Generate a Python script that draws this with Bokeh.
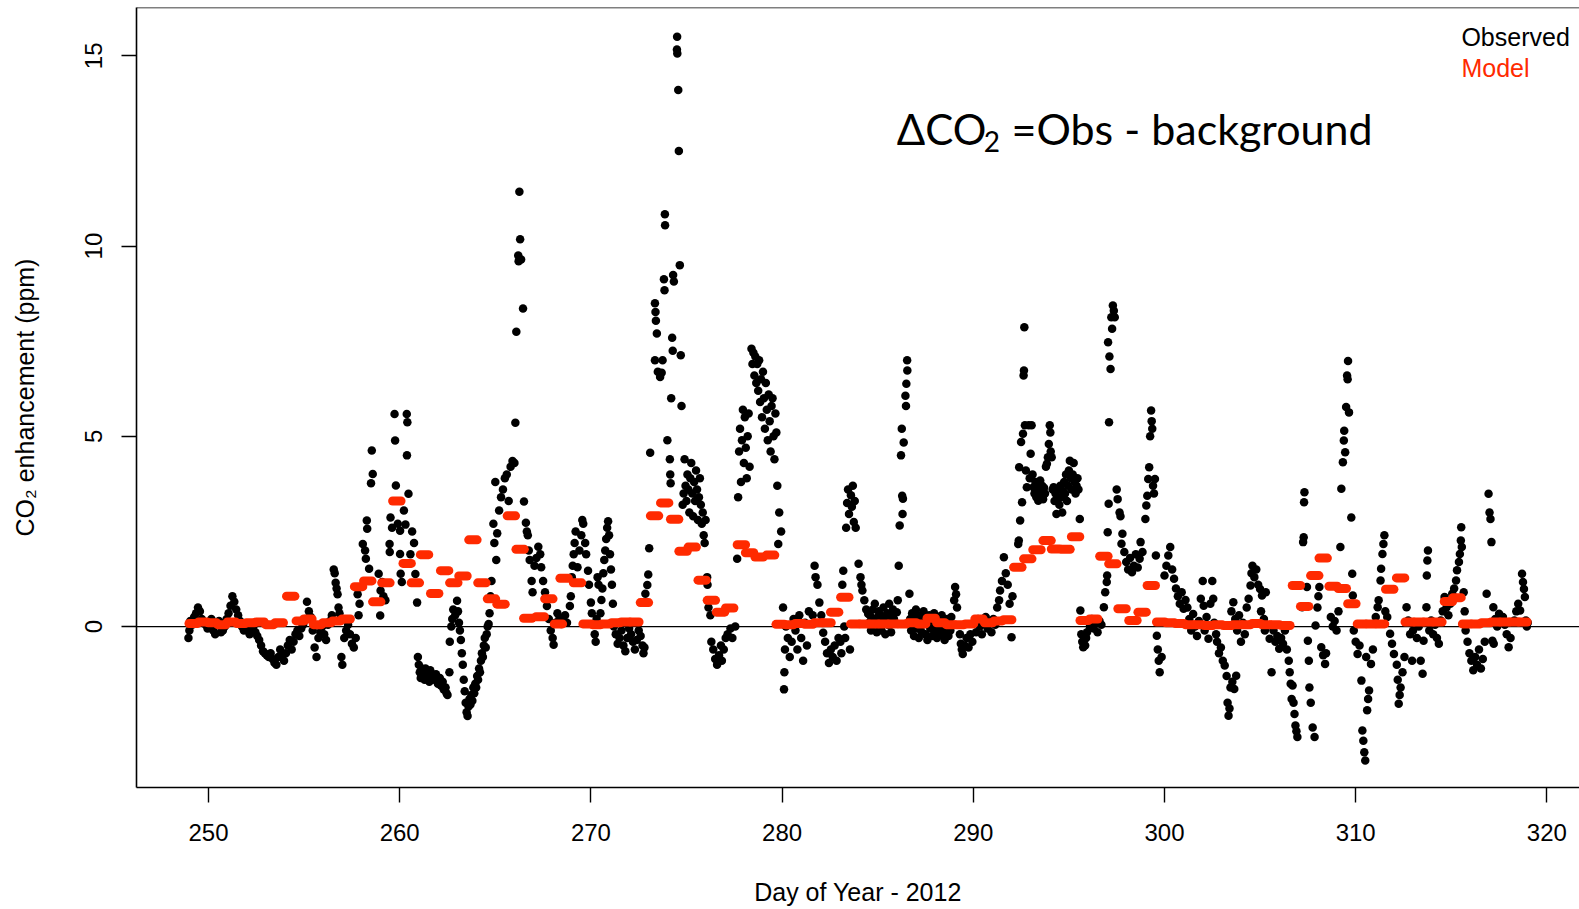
from bokeh.plotting import figure
from bokeh.models import Range1d, FixedTicker, Span, Label, ColumnDataSource
from bokeh.embed import file_html
from bokeh.resources import INLINE

# ---------------- data ----------------
x_ticks = [250, 260, 270, 280, 290, 300, 310, 320]
y_ticks = [0, 5, 10, 15]

obs_day = [
    248.95, 249.00, 249.05, 249.15, 249.25, 249.35, 249.45, 249.55, 249.65, 249.75, 249.85, 249.95,
    250.05, 250.15, 250.25, 250.35, 250.45, 250.55, 250.65, 250.75, 250.85, 250.95,
    251.05, 251.15, 251.25, 251.35, 251.45, 251.55, 251.65, 251.75, 251.85, 251.95,
    252.05, 252.15, 252.25, 252.35, 252.45, 252.55, 252.65, 252.75, 252.85, 252.95,
    253.05, 253.15, 253.25, 253.35, 253.45, 253.55, 253.65, 253.75, 253.85, 253.95,
    254.05, 254.15, 254.25, 254.35, 254.45, 254.55, 254.65, 254.75, 254.85, 254.95,
    255.05, 255.15, 255.25, 255.35, 255.45, 255.55, 255.65, 255.75, 255.85, 255.95,
    256.05, 256.15, 256.25, 256.35, 256.45, 256.55, 256.60, 256.65, 256.70, 256.75, 256.80, 256.85, 256.95, 257.00,
    257.10, 257.20, 257.30, 257.40, 257.50, 257.60, 257.70, 257.80, 257.85, 257.90,
    258.07, 258.19, 258.23, 258.28, 258.30, 258.40, 258.50, 258.54, 258.59, 258.90, 258.98, 259.00, 259.08, 259.15, 259.25,
    259.47, 259.48, 259.52, 259.60, 259.73, 259.76, 259.80, 259.90, 260.02, 260.02, 260.05, 260.11, 260.37, 260.40, 260.38, 260.46, 260.46,
    260.22, 260.30, 260.56, 260.65, 260.75, 260.82, 260.91,
    260.95, 261.00, 261.05, 261.10, 261.15, 261.20, 261.30, 261.35, 261.40, 261.50, 261.55, 261.60,
    261.70, 261.80, 261.90, 262.00, 262.10, 262.15, 262.25, 262.30, 262.40, 262.45, 262.50,
    262.60, 262.62, 262.70, 262.75, 262.80, 262.90, 263.00, 263.05, 263.10, 263.15, 263.20, 263.25, 263.30,
    263.35, 263.40, 263.45, 263.50, 263.55, 263.60, 263.65, 263.70, 263.75, 263.80, 263.85, 263.90, 263.95, 264.00, 264.05,
    264.10, 264.15, 264.20, 264.25, 264.30, 264.35, 264.40, 264.45, 264.50, 264.55, 264.60, 264.65, 264.70, 264.75, 264.80,
    264.90, 264.95, 265.00, 265.05, 265.10, 265.20, 265.30, 265.40, 265.50, 265.60, 265.70, 265.80, 265.90, 266.00, 266.05,
    266.10, 266.20, 266.22, 266.26, 266.30, 266.35, 266.45,
    266.50, 266.60, 266.65, 266.70, 266.75, 266.80, 266.90, 266.95,
    267.05, 267.15, 267.25, 267.35, 267.40, 267.50, 267.60, 267.70,
    267.80, 267.90, 268.00, 268.05, 268.15, 268.25, 268.35, 268.45, 268.55, 268.65, 268.75,
    268.90, 268.95, 269.00, 269.05, 269.10, 269.15, 269.20, 269.30, 269.40, 269.50, 269.55, 269.60, 269.70, 269.75,
    269.85, 269.90, 270.00, 270.05, 270.10, 270.20, 270.25, 270.30, 270.35, 270.40,
    270.50, 270.55, 270.60, 270.65, 270.70, 270.75, 270.80, 270.85, 270.90, 270.95, 271.00, 271.05, 271.10, 271.15,
    271.20, 271.30, 271.40, 271.50, 271.60, 271.70, 271.80, 271.90, 272.00,
    272.10, 272.20, 272.30, 272.40, 272.50, 272.60, 272.70, 272.75, 272.80,
    272.85, 272.95, 273.00, 273.05, 273.10,
    273.35, 273.38, 273.40, 273.45, 273.35, 273.50, 273.62, 273.70, 273.75, 273.82, 273.85, 273.87, 273.88, 274.00, 274.13, 274.15, 274.17,
    274.51, 274.50, 274.52, 274.57, 274.60, 274.65, 274.30, 274.34, 274.25, 274.28, 274.70, 274.20, 274.74,
    274.80, 274.85, 274.90, 274.95, 275.00, 275.05, 275.10, 275.15, 275.20, 275.25, 275.30, 275.35, 275.40,
    275.45, 275.50, 275.55, 275.60, 275.65, 275.70, 275.75, 275.80, 275.85, 275.90, 275.95, 276.00,
    276.08, 276.10, 276.15, 276.25, 276.30, 276.40, 276.50, 276.60, 276.70, 276.80, 276.85, 276.95, 277.05, 277.15, 277.30, 277.40, 277.55,
    277.65, 277.70, 277.75, 277.80, 277.85, 277.90, 277.95, 278.00, 278.05, 278.10, 278.15, 278.20, 278.25, 278.30,
    278.40, 278.45, 278.50, 278.55, 278.60, 278.65, 278.70, 278.75, 278.80, 278.85, 278.90, 278.95, 279.00, 279.05, 279.10,
    279.15, 279.20, 279.25, 279.30, 279.35, 279.40, 279.45, 279.50, 279.55, 279.60, 279.65, 279.70, 279.75, 279.80, 279.85, 279.95,
    280.05, 280.10, 280.12, 280.15, 280.20, 280.30, 280.40, 280.50, 280.60, 280.70, 280.80, 280.90, 281.00, 281.10, 281.20, 281.30, 281.40,
    281.60, 281.70, 281.75, 281.85, 281.95, 282.05, 282.15, 282.25, 282.35, 282.45, 282.55, 282.65, 282.75, 282.85, 282.95,
    283.05, 283.10, 283.15, 283.20, 283.25, 283.30, 283.35, 283.40, 283.45, 283.50, 283.55, 283.60,
    283.65, 283.70, 283.75, 283.80, 283.85, 284.00, 284.10, 284.15, 284.20, 284.30, 284.40, 284.50,
    284.55, 284.60, 284.65, 284.70, 284.75, 284.80, 284.85, 284.90, 284.95, 285.00, 285.05, 285.10, 285.15, 285.20,
    285.25, 285.30, 285.35, 285.40, 285.45, 285.50, 285.55, 285.60, 285.65, 285.70, 285.75, 285.80, 285.85,
    286.00, 286.05, 286.10, 286.15, 286.22, 286.26, 286.28, 286.30, 286.32, 286.36, 286.45, 286.48, 286.50, 286.54, 286.55, 286.66,
    286.70, 286.75, 286.80, 286.85, 286.90, 286.95, 287.00, 287.05, 287.10, 287.15, 287.20, 287.25, 287.30, 287.35, 287.40,
    287.45, 287.50, 287.55, 287.60, 287.65, 287.70, 287.75, 287.80, 287.85, 287.90, 287.95, 288.00, 288.05, 288.10, 288.15,
    288.20, 288.25, 288.30, 288.35, 288.40, 288.45, 288.50, 288.55, 288.60, 288.65, 288.70, 288.75, 288.80, 288.85, 288.90,
    289.00, 289.05, 289.10, 289.15, 289.30, 289.35, 289.40, 289.45, 289.55, 289.65, 289.75, 289.85, 289.95,
    290.05, 290.15, 290.25, 290.35, 290.45, 290.55, 290.65, 290.75, 290.85, 290.95, 291.05, 291.15,
    291.25, 291.35, 291.40, 291.50, 291.60, 291.70, 291.80, 291.90, 292.00, 292.05,
    292.35, 292.38, 292.40, 292.45, 292.50, 292.55, 292.60, 292.63, 292.65, 292.67,
    292.70, 292.75, 292.80, 292.90, 292.95, 293.00, 293.05, 293.10, 293.15,
    293.20, 293.25, 293.30, 293.35, 293.40, 293.45, 293.50, 293.55, 293.60, 293.65, 293.70, 293.75,
    293.80, 293.85, 293.90, 293.95, 294.00, 294.03, 294.05, 294.10, 294.15, 294.20,
    294.25, 294.30, 294.35, 294.40, 294.45, 294.50, 294.55, 294.60, 294.65, 294.70,
    294.75, 294.80, 294.85, 294.90, 294.95, 295.00, 295.05, 295.10, 295.15,
    295.20, 295.25, 295.30, 295.35, 295.40, 295.45, 295.50, 295.57,
    295.60, 295.65, 295.70, 295.75, 295.80, 295.85, 295.90, 295.95,
    296.10, 296.20, 296.30, 296.40, 296.50, 296.60, 296.70,
    296.83, 296.90, 296.98, 297.00, 297.03, 297.08, 297.10, 297.05,
    297.12, 297.18, 297.22, 297.26, 297.30, 297.35, 297.40,
    297.50, 297.55, 297.65, 297.70, 297.75, 297.80, 297.90, 298.00, 298.10,
    298.20, 298.30, 298.40, 298.50, 298.60, 298.70, 298.75, 298.85,
    299.00, 299.05, 299.10, 299.15, 299.20, 299.25, 299.30, 299.33, 299.36, 299.40, 299.45, 299.50,
    299.55, 299.60, 299.65, 299.70, 299.75, 299.85,
    300.00, 300.10, 300.20, 300.30, 300.40, 300.50, 300.60, 300.70, 300.80, 300.90, 301.00, 301.10, 301.20,
    301.30, 301.40, 301.50, 301.60, 301.70, 301.80, 301.90, 302.00, 302.05,
    302.10, 302.20, 302.30, 302.40, 302.50, 302.55, 302.60, 302.70,
    302.75, 302.85, 302.95, 303.05, 303.15, 303.25, 303.30, 303.35, 303.40, 303.45, 303.55, 303.65, 303.75,
    303.50, 303.60, 303.70, 303.80, 303.90, 304.00, 304.10, 304.20,
    304.30, 304.40, 304.50, 304.55, 304.60, 304.70, 304.80, 304.90, 305.00,
    305.05, 305.10, 305.20, 305.25, 305.30, 305.40, 305.50, 305.60,
    305.70, 305.80, 305.90, 306.00, 306.10, 306.20, 306.30,
    306.40, 306.50, 306.55, 306.60, 306.65, 306.70, 306.75, 306.80, 306.85, 306.90, 306.95,
    307.20, 307.25, 307.28, 307.30, 307.32, 307.45, 307.50, 307.55, 307.58, 307.65,
    307.75, 307.85, 307.90, 308.00, 308.05, 308.10, 308.20, 308.30, 308.40, 308.45,
    308.70, 308.80, 308.90, 309.00, 309.10, 309.20, 309.25, 309.33, 309.38, 309.40,
    309.45, 309.50, 309.55, 309.58, 309.60, 309.65, 309.77, 309.82, 309.85,
    309.90, 310.00, 310.10, 310.20, 310.30, 310.35, 310.40, 310.45, 310.50,
    310.55, 310.60, 310.65, 310.70, 310.80, 310.90,
    311.05, 311.15, 311.20, 311.30, 311.33, 311.40, 311.45, 311.50, 311.55, 311.65, 311.80, 311.90, 312.00,
    312.15, 312.20, 312.25, 312.30, 312.35, 312.45, 312.55, 312.66,
    312.75, 312.85, 312.95, 313.00, 313.10, 313.20, 313.30, 313.40, 313.50, 313.55, 313.65,
    313.70, 313.72, 313.75, 313.78, 313.85, 313.95, 314.05, 314.15, 314.25, 314.35,
    314.45, 314.55, 314.65, 314.75, 314.85, 314.95, 315.05, 315.15, 315.25,
    315.30, 315.40, 315.45, 315.50, 315.52, 315.55, 315.65, 315.70,
    315.75, 315.85, 315.95, 316.05, 316.15, 316.25, 316.35, 316.45, 316.55, 316.65, 316.75,
    316.85, 316.95, 317.00, 317.05, 317.10, 317.15, 317.20, 317.22,
    317.30, 317.40, 317.50, 317.60, 317.70, 317.80, 317.90, 318.00, 318.10, 318.20,
    318.30, 318.40, 318.50, 318.60, 318.70, 318.75, 318.80, 318.85, 318.90, 318.95, 319.00,
]

obs_ppm = [
    -0.30, -0.10, 0.15, 0.05, 0.25, 0.35, 0.50, 0.40, 0.20, 0.10, 0.05, -0.05,
    0.10, 0.20, -0.10, -0.20, 0.05, 0.15, -0.15, -0.10, 0.00, 0.20,
    0.35, 0.55, 0.80, 0.65, 0.45, 0.30, 0.15, 0.00, -0.10, 0.05,
    -0.05, -0.20, -0.10, 0.00, -0.15, -0.25, -0.35, -0.50, -0.65, -0.70,
    -0.75, -0.80, -0.70, -0.85, -0.95, -1.00, -0.80, -0.60, -0.75, -0.90,
    -0.70, -0.50, -0.35, -0.60, -0.40, -0.20, -0.10, -0.25, -0.05, 0.05,
    0.20, 0.65, 0.40, 0.25, -0.10, -0.55, -0.80, -0.30, -0.15, 0.00,
    -0.20, -0.35, 0.05, 0.15, 0.30, 1.50, 1.40, 1.15, 1.00, 0.85, 0.50, 0.35, -0.80, -1.00,
    -0.30, -0.10, 0.05, -0.20, -0.45, -0.55, -0.30, 0.85, 0.30, 0.60,
    2.17, 2.00, 1.78, 2.79, 2.57, 1.52, 3.77, 4.63, 4.01, 1.39, 0.29, 0.95, 1.17, 0.80, 0.69,
    2.17, 1.96, 2.87, 2.60, 5.59, 4.89, 3.71, 2.70, 2.52, 1.91, 1.39, 1.17, 5.59, 5.37, 4.50, 3.49, 1.65,
    3.05, 2.68, 1.90, 2.50, 2.20, 1.38, 0.63,
    -0.80, -1.00, -1.20, -1.35, -1.10, -1.25, -1.40, -1.10, -1.20, -1.30, -1.45, -1.15,
    -1.30, -1.40, -1.25, -1.50, -1.35, -1.55, -1.45, -1.65, -1.60, -1.75, -1.80,
    -1.20, -0.40, 0.00, 0.20, 0.45, 0.30, 0.68, 0.40, 0.10, -0.10, -0.35, -0.70, -1.00,
    -1.40, -1.70, -2.00, -2.25, -2.35, -2.10, -1.90, -2.05, -1.80, -1.95, -1.60, -1.75, -1.50, -1.60, -1.30,
    -1.40, -1.10, -1.20, -0.90, -0.70, -0.80, -0.50, -0.30, -0.55, -0.20, 0.00, 0.07, 0.35, 0.80, 1.20,
    2.70, 2.20, 3.80, 1.75, 2.45, 3.05, 3.40, 3.60, 3.90, 4.00, 3.30, 4.20, 4.35, 4.30, 5.36,
    7.75, 9.75, 9.60, 11.43, 10.18, 9.65, 8.36,
    3.29, 2.73, 2.50, 2.40, 2.00, 1.75, 1.20, 0.90,
    1.60, 1.80, 2.10, 1.90, 1.56, 1.20, 0.90, 0.54,
    0.20, -0.10, -0.30, -0.48, 0.10, 0.35, 0.20, 0.07, 0.15, 0.30, 0.10,
    0.54, 0.80, 1.30, 1.60, 1.90, 2.20, 2.50, 1.56, 2.00, 2.40, 2.80, 2.70, 2.20, 1.90,
    1.47, 1.10, 0.63, 0.35, 0.07, -0.20, -0.40, 0.20, 1.30, 1.10,
    0.35, 0.70, 1.00, 1.40, 1.75, 2.00, 2.30, 2.60, 2.77, 2.40, 1.90, 1.50, 1.10, 0.60,
    0.00, -0.20, -0.45, -0.30, -0.10, -0.50, -0.65, -0.30, -0.05,
    -0.20, -0.40, -0.60, -0.35, -0.10, -0.25, -0.50, -0.70, -0.55,
    0.86, 1.09, 1.37, 2.06, 4.57,
    8.50, 8.27, 8.04, 7.70, 7.00, 6.70, 6.56, 6.67, 7.00, 9.13, 8.84, 10.84, 10.55, 4.90, 4.40, 4.00, 3.77,
    15.50, 15.17, 15.06, 14.10, 12.50, 9.50, 9.24, 9.07, 7.59, 7.25, 7.13, 6.00, 5.80,
    3.20, 3.50, 4.40, 3.70, 3.30, 4.00, 3.60, 3.00, 3.90, 4.30, 3.50, 2.90, 3.80,
    3.30, 4.10, 3.60, 2.80, 3.40, 3.90, 3.20, 2.70, 3.00, 2.40, 2.20, 2.80,
    1.30, 1.10, 0.50, 0.30, -0.40, -0.60, -0.85, -1.00, -0.75, -0.50, -0.90, -0.60, -0.30, -0.20, -0.05, -0.30, 0.00,
    1.78, 3.40, 4.60, 5.20, 3.80, 4.90, 5.70, 4.30, 5.50, 4.70, 3.90, 5.00, 5.60, 4.20,
    7.30, 6.90, 7.20, 6.60, 7.10, 6.40, 6.90, 6.20, 7.00, 5.90, 6.50, 5.50, 6.70, 6.00, 5.20,
    6.40, 5.70, 4.90, 6.10, 5.40, 4.60, 5.80, 6.00, 5.00, 4.40, 5.60, 5.10, 3.70, 2.17, 3.00, 2.50,
    0.50, -1.65, -1.20, -0.60, 0.00, -0.30, -0.80, -0.40, 0.20, -0.10, -0.60, 0.30, -0.30, -0.90, 0.10, -0.50, 0.40,
    0.30, 1.60, 1.30, 1.10, 0.63, 0.30, -0.16, -0.40, -0.70, -0.96, -0.60, -0.80, -0.50, -0.90, -0.30,
    -0.40, -0.70, 1.10, 1.47, 0.00, -0.30, 2.60, 3.25, 3.60, 2.96, -0.60, 3.45,
    3.15, 3.70, 2.75, 3.30, 2.60, 1.65, 1.30, 1.10, 0.95, 0.69, 0.45, 0.34,
    0.10, 0.30, -0.10, 0.20, 0.45, 0.05, 0.60, 0.15, -0.15, 0.25, 0.40, 0.00, 0.30, -0.10,
    0.15, 0.50, 0.10, -0.20, 0.20, 0.35, 0.05, 0.60, 0.30, -0.15, 0.10, 0.45, 0.20,
    0.38, 0.69, 1.60, 2.66, 4.50, 5.20, 3.44, 2.96, 3.36, 4.84, 6.07, 5.80, 6.38, 7.00, 6.73, 0.86,
    0.20, -0.10, 0.35, 0.05, -0.25, 0.15, 0.45, -0.05, 0.25, -0.30, 0.10, 0.30, -0.15, 0.05, 0.40,
    0.15, -0.20, 0.20, -0.35, 0.10, 0.30, -0.05, 0.20, -0.25, 0.05, 0.35, -0.10, 0.15, -0.30, 0.25,
    0.00, -0.20, 0.10, 0.30, -0.15, 0.05, -0.35, 0.15, -0.05, 0.20, -0.25, 0.10, -0.10, 0.25, 0.05,
    0.69, 1.04, 0.85, 0.50, -0.20, -0.45, -0.60, -0.72, -0.50, -0.30, -0.55, -0.20, -0.40,
    0.10, -0.15, 0.20, 0.00, -0.20, 0.15, 0.25, -0.05, 0.10, -0.15, 0.20, 0.05,
    0.50, 0.69, 0.95, 1.20, 1.82, 1.40, 1.10, 0.60, -0.28, 0.80,
    2.17, 2.26, 4.19, 2.79, 4.85, 3.27, 5.07, 6.60, 6.73, 7.87,
    5.29, 4.10, 3.66, 5.29, 3.90, 4.54, 5.29, 4.00, 3.66,
    3.50, 3.80, 3.40, 3.70, 3.31, 3.60, 3.84, 3.45, 3.70, 3.35, 3.65, 3.50,
    4.20, 4.28, 4.45, 4.80, 5.29, 5.10, 4.60, 4.45, 3.60, 3.66,
    3.30, 3.50, 2.96, 3.40, 3.60, 3.20, 3.70, 3.40, 3.00, 3.55,
    3.80, 3.50, 4.00, 3.30, 3.70, 4.10, 4.36, 3.90, 3.60,
    4.00, 4.30, 3.80, 3.50, 3.70, 3.90, 3.60, 2.83,
    0.42, -0.20, -0.40, -0.54, -0.35, -0.50, -0.30, -0.15,
    0.00, 0.20, -0.05, 0.10, -0.15, 0.15, 0.05,
    0.51, 0.90, 1.17, 1.34, 2.48, 3.23, 5.37, 7.47,
    7.10, 6.77, 8.13, 7.83, 8.44, 8.30, 8.13,
    3.60, 3.35, 3.00, 2.90, 2.18, 2.44, 1.96, 1.70, 1.50,
    1.80, 1.43, 1.60, 1.90, 1.55, 1.78, 2.22, 1.96,
    2.83, 3.18, 3.44, 3.88, 4.19, 5.00, 5.68, 5.40, 5.20, 3.70, 3.50, 3.88,
    1.87, -0.24, -0.60, -0.90, -1.20, -0.80,
    1.34, 1.60, 1.87, 2.09, 1.50, 1.26, 1.00, 0.80, 0.60, 0.90, 0.47, 0.70, 0.50,
    0.20, -0.10, 0.33, 0.00, -0.25, 0.15, 0.73, 1.20, 0.55,
    -0.10, 0.25, -0.32, 0.60, 1.20, 0.73, 0.10, -0.20,
    -0.40, -0.70, -0.55, -0.90, -1.02, -1.30, -2.00, -2.34, -2.15, -1.60, -1.45, -1.64, -1.29,
    0.40, 0.64, 0.20, -0.10, 0.30, -0.40, 0.10, -0.20,
    0.50, 0.73, 1.08, 1.40, 1.60, 1.30, 1.50, 1.10, 0.99,
    0.40, 0.82, 0.20, -0.10, 0.90, 0.03, -0.32, -1.20,
    -0.10, -0.40, -0.25, -0.58, -0.30, -0.45, -0.10,
    -0.60, -0.90, -1.20, -1.50, -1.90, -1.55, -2.00, -2.30, -2.60, -2.75, -2.90,
    0.51, 2.22, 2.35, 3.27, 3.53, 1.04, -0.37, -0.90, -1.60, -2.00,
    -2.65, -2.90, 0.03, 0.50, 0.80, 1.04, -0.54, -0.75, -0.98, -0.70,
    0.25, 0.00, 0.15, -0.10, 0.40, 2.09, 3.62, 4.32, 4.89, 5.15,
    4.58, 5.77, 6.60, 6.50, 6.98, 5.63, 2.87, 1.39, 0.82,
    -0.10, -0.40, -0.72, -0.50, -1.42, -2.73, -3.00, -3.30, -3.52,
    -0.80, -2.20, -1.90, -1.68, -0.98, -0.60,
    0.25, 0.51, 0.69, 1.21, 1.52, 1.91, 2.17, 2.40, 0.40, 0.25, -0.19, -0.45, -0.72,
    -1.00, -1.40, -2.03, -1.80, -1.60, -1.20, -0.80, 0.51,
    0.16, -0.20, -0.90, -0.10, 0.10, -0.30, 0.00, -0.90, -1.24, -0.37, 0.10,
    0.51, 1.34, 1.74, 2.00, -0.10, 0.16, -0.20, 0.05, -0.30, -0.45,
    0.16, 0.40, 0.78, 0.50, 0.30, 0.60, 0.86, 1.00, 1.21,
    1.48, 1.70, 1.91, 2.26, 2.61, 2.09, 0.90, 0.40,
    -0.10, -0.40, -0.70, -0.90, -1.15, -0.80, -1.00, -0.60, -1.10, -0.85, -0.40,
    0.86, 3.49, 3.00, 2.83, 2.22, -0.37, 0.51, -0.45,
    0.20, 0.00, 0.34, 0.10, 0.25, 0.05, -0.20, -0.54, -0.30, 0.10,
    0.16, 0.40, 0.60, 0.42, 1.39, 1.17, 0.99, 0.78, 0.16, 0.00, 0.10,
]

model_day = [
    249.2, 249.7, 250.2, 250.7, 251.2, 251.7, 252.2, 252.7, 253.2, 253.7,
    254.3, 254.8, 255.2, 255.7, 256.2, 256.7, 257.2, 257.85, 258.33, 258.8,
    259.28, 259.85, 260.39, 260.82, 261.3, 261.83, 262.35, 262.83, 263.31, 263.83,
    264.3, 264.8, 265.3, 265.84, 266.3, 266.7, 267.35, 267.8, 268.3, 268.6,
    269.3, 269.8, 270.3, 270.8, 271.3, 271.8, 272.3, 272.8, 273.33, 273.86,
    274.38, 274.82, 275.3, 275.82, 276.3, 276.78, 277.26, 277.87, 278.3, 278.8,
    279.4, 279.9, 280.4, 280.9, 281.4, 281.9, 282.35, 282.75, 283.28, 283.8,
    284.3, 284.8, 285.3, 285.8, 286.3, 286.8, 287.3, 287.8, 288.3, 288.8,
    289.3, 289.8, 290.3, 290.8, 291.3, 291.8, 292.33, 292.85, 293.33, 293.86,
    294.3, 294.85, 295.35, 295.8, 296.3, 296.83, 297.3, 297.78, 298.35, 298.83,
    299.31, 299.8, 300.3, 300.8, 301.3, 301.8, 302.3, 302.8, 303.3, 303.8,
    304.3, 304.8, 305.3, 305.8, 306.35, 306.9, 307.33, 307.86, 308.3, 308.82,
    309.3, 309.8, 310.3, 310.8, 311.3, 311.78, 312.35, 312.8, 313.3, 313.8,
    314.3, 314.85, 315.3, 315.8, 316.3, 316.8, 317.3, 317.8, 318.3, 318.75,
]

model_ppm = [
    0.08, 0.12, 0.10, 0.05, 0.12, 0.08, 0.10, 0.12, 0.05, 0.10,
    0.80, 0.15, 0.20, 0.05, 0.10, 0.15, 0.20, 1.05, 1.20, 0.65,
    1.15, 3.30, 1.66, 1.15, 1.89, 0.87, 1.47, 1.15, 1.33, 2.28,
    1.15, 0.73, 0.59, 2.91, 2.03, 0.22, 0.26, 0.73, 0.07, 1.27,
    1.15, 0.07, 0.05, 0.07, 0.10, 0.12, 0.12, 0.63, 2.91, 3.25,
    2.82, 1.98, 2.09, 1.22, 0.69, 0.38, 0.49, 2.15, 1.94, 1.83,
    1.88, 0.06, 0.05, 0.08, 0.06, 0.10, 0.10, 0.38, 0.77, 0.07,
    0.07, 0.07, 0.07, 0.07, 0.07, 0.10, 0.07, 0.22, 0.10, 0.05,
    0.05, 0.07, 0.20, 0.10, 0.15, 0.18, 1.56, 1.78, 2.02, 2.26,
    2.04, 2.03, 2.36, 0.16, 0.20, 1.85, 1.65, 0.47, 0.16, 0.38,
    1.08, 0.12, 0.10, 0.08, 0.05, 0.05, 0.03, 0.05, 0.03, 0.05,
    0.05, 0.08, 0.05, 0.05, 0.03, 1.08, 0.53, 1.34, 1.80, 1.06,
    1.00, 0.60, 0.07, 0.07, 0.07, 0.98, 1.28, 0.12, 0.12, 0.12,
    0.12, 0.66, 0.76, 0.07, 0.07, 0.10, 0.12, 0.12, 0.12, 0.12,
]

assert len(obs_day) == len(obs_ppm), (len(obs_day), len(obs_ppm))
assert len(model_day) == len(model_ppm), (len(model_day), len(model_ppm))

# ---------------- style ----------------
RED = "#ff2a00"
FONT = "Liberation Sans"
DASH_HALF = 0.22  # half length (days) of each model dash

x_start, x_end = 246.234, 321.706
y_start, y_end = -4.229, 16.271

p = figure(width=1579, height=909,
           x_range=Range1d(x_start, x_end), y_range=Range1d(y_start, y_end),
           output_backend="svg", toolbar_location=None,
           min_border_left=136, min_border_right=0,
           min_border_top=7, min_border_bottom=122)
p.outline_line_color = None
p.grid.visible = False
p.background_fill_color = "white"
p.border_fill_color = "white"

# zero line (beneath points)
p.add_layout(Span(location=0, dimension="width", line_color="black",
                  line_width=1.3, level="underlay"))
# top frame line
p.add_layout(Span(location=y_end, dimension="width", line_color="black",
                  line_width=1.6))

obs_src = ColumnDataSource(data=dict(day=obs_day, ppm=obs_ppm))
p.scatter("day", "ppm", source=obs_src, size=8.5, marker="circle",
          fill_color="black", line_color=None)

mod_src = ColumnDataSource(data=dict(
    x0=[d - DASH_HALF for d in model_day],
    x1=[d + DASH_HALF for d in model_day],
    y=model_ppm))
p.segment(x0="x0", y0="y", x1="x1", y1="y", source=mod_src,
          line_color=RED, line_width=9, line_cap="round")

for ax in (p.xaxis[0], p.yaxis[0]):
    ax.axis_line_width = 1.6
    ax.axis_line_color = "black"
    ax.major_tick_line_width = 1.4
    ax.major_tick_line_color = "black"
    ax.major_tick_out = 15
    ax.major_tick_in = 0
    ax.minor_tick_out = 0
    ax.minor_tick_in = 0
    ax.major_label_text_font = FONT
    ax.major_label_text_font_size = "24px"
    ax.major_label_text_color = "black"
    ax.axis_label_text_font = FONT
    ax.axis_label_text_font_size = "25px"
    ax.axis_label_text_font_style = "normal"
    ax.axis_label_text_color = "black"

p.xaxis.ticker = FixedTicker(ticks=x_ticks)
p.yaxis.ticker = FixedTicker(ticks=y_ticks)
p.xaxis.major_label_standoff = 21
p.xaxis.axis_label = "Day of Year - 2012"
p.xaxis.axis_label_standoff = 34
p.yaxis.major_label_orientation = "vertical"
p.yaxis.major_label_standoff = 19
p.yaxis.axis_label = "CO\u2082 enhancement (ppm)"
p.yaxis.axis_label_standoff = 44

# legend texts
p.add_layout(Label(x=315.53, y=15.483, text="Observed", text_font=FONT,
                   text_font_size="25px", text_color="black",
                   text_baseline="alphabetic", text_align="left"))
p.add_layout(Label(x=315.53, y=14.681, text="Model", text_font=FONT,
                   text_font_size="25px", text_color=RED,
                   text_baseline="alphabetic", text_align="left"))

# annotation  ΔCO2 =Obs - background
p.add_layout(Label(x=286.00, y=13.09, text="\u0394CO", text_font="Lato",
                   text_font_size="42px", text_color="black",
                   text_baseline="alphabetic", text_align="left"))
p.add_layout(Label(x=290.55, y=12.75, text="2", text_font="Lato",
                   text_font_size="28px", text_color="black",
                   text_baseline="alphabetic", text_align="left"))
p.add_layout(Label(x=292.00, y=13.09, text="=Obs - background", text_font="Lato",
                   text_font_size="43px", text_color="black",
                   text_baseline="alphabetic", text_align="left"))

open("out.html", "w").write(file_html(p, INLINE))
